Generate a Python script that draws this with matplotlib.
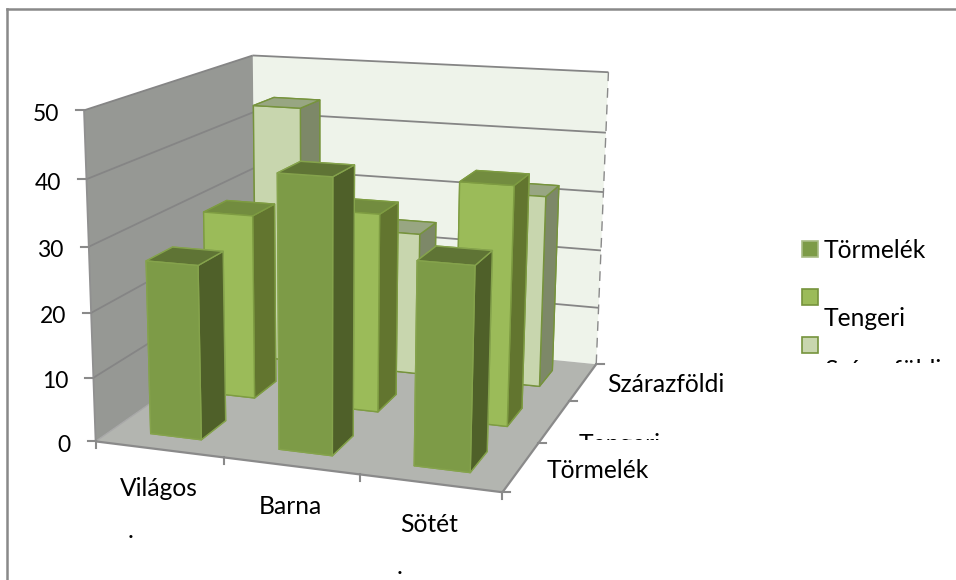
import numpy as np
import matplotlib
matplotlib.use("Agg")
import matplotlib.pyplot as plt
from matplotlib.lines import Line2D
from matplotlib.patches import Rectangle
from matplotlib.transforms import IdentityTransform
from mpl_toolkits.mplot3d.art3d import Poly3DCollection, Line3DCollection

W, H = 956, 580
FONT = "Lato"
FS = 17.7
FS_NUM = 16.5

categories = ["Világos", "Barna", "Sötét"]
series_names = ["Törmelék", "Tengeri", "Szárazföldi"]
tormelek = [27, 41.6, 30.5]
tengeri = [30, 31.8, 37.7]
szarazfoldi = [43.8, 24, 31.8]
y_ticks = [0, 10, 20, 30, 40, 50]

face_cols = ["#7D9B47", "#9BBB59", "#C8D6AE"]
side_cols = ["#4F6029", "#62752F", "#7D8868"]
top_cols = ["#5F7435", "#728C3F", "#98A682"]
edge_cols = ["#85A34C", "#7E9C42", "#76933C"]

# Perspective camera fitted to the chart box corners (data -> pixel)
box3d = np.array([[0, 0, 0], [3, 0, 0], [3, 3, 0], [0, 3, 0],
                  [0, 0, 50], [0, 3, 50], [3, 3, 50]], float)
box2d = np.array([[97, 440], [502, 494], [597, 362], [254, 332],
                  [83, 110], [254, 55], [608, 73]], float)
rows = []
for (X, Y, Z), (u, v) in zip(box3d, box2d):
    rows.append([X, Y, Z, 1, 0, 0, 0, 0, -u * X, -u * Y, -u * Z, -u])
    rows.append([0, 0, 0, 0, X, Y, Z, 1, -v * X, -v * Y, -v * Z, -v])
P = np.linalg.svd(np.array(rows))[2][-1].reshape(3, 4)
P = P / P[2, 3]


def project(x, y, z):
    q = P @ np.array([x, y, z, 1.0])
    return q[0] / q[2], q[1] / q[2]


fig = plt.figure(figsize=(W / 100, H / 100), dpi=100, facecolor="white")
ax = fig.add_axes([0, 0, 1, 1], projection="3d", computed_zorder=False)
ax.apply_aspect = lambda position=None: None
ax.set_position([0, 0, 1, 1])
ax.set_axis_off()
ax.patch.set_alpha(0)

inv = ax.transData.inverted()
v0 = inv.transform((0, 0))
v1 = inv.transform((1, 1))
sx, sy = v1 - v0
M = np.zeros((4, 4))
M[0] = sx * P[0] + v0[0] * P[2]
M[1] = -sy * P[1] + (H * sy + v0[1]) * P[2]
M[3] = P[2]
M[2] = P[2] - np.array([0, 0, 0, 1.0])
ax.get_proj = lambda: M

GRID = "#858585"

walls = [
    ([[0, 3, 0], [3, 3, 0], [3, 3, 50], [0, 3, 50]], "#EEF3EA"),
    ([[0, 0, 0], [0, 3, 0], [0, 3, 50], [0, 0, 50]], "#969894"),
    ([[0, 0, 0], [3, 0, 0], [3, 3, 0], [0, 3, 0]], "#B3B5B0"),
]
for verts, col in walls:
    pc = Poly3DCollection([verts], facecolors=col, edgecolors="none")
    ax.add_collection3d(pc)
    pc.set_zorder(1)


def line3d(pts, color, lw, ls="solid", zorder=2):
    segs = [[pts[i], pts[i + 1]] for i in range(len(pts) - 1)]
    lc = Line3DCollection(segs, colors=color, linewidths=lw, linestyles=ls)
    ax.add_collection3d(lc)
    lc.set_zorder(zorder)


for v in y_ticks[1:]:
    line3d([(0, 0, v), (0, 3, v), (3, 3, v)], GRID, 1.3)
line3d([(3, 3, 0), (3, 3, 50)], "#8a8a8a", 1, ls=(0, (7, 5)))
line3d([(0, 0, 0), (0, 0, 50)], "#909090", 1.3)
line3d([(0, 0, 0), (0, 3, 0)], "#A8A8A8", 1)
line3d([(0, 0, 0), (3, 0, 0), (3, 3, 0)], "#8a8a8a", 1.6)

BW = 0.40
BD = 0.44
values = [tormelek, tengeri, szarazfoldi]
z = 3
for row in [2, 1, 0]:
    for c in range(3):
        col6 = [top_cols[row], top_cols[row], face_cols[row], face_cols[row],
                side_cols[row], side_cols[row]]
        bar = ax.bar3d(c + 0.5 - BW / 2, row + 0.5 - BD / 2, 0, BW, BD, values[row][c],
                       color=col6, shade=False, edgecolor=edge_cols[row], linewidth=1.0)
        bar.set_zorder(z)
        z += 1

AX = "#8a8a8a"


def seg(x0, y0, x1, y1, color=AX, lw=1.5):
    fig.add_artist(Line2D([x0 / W, x1 / W], [1 - y0 / H, 1 - y1 / H], color=color, lw=lw))


def label(x, y, s, ha="center", clip=None, fs=FS):
    t = fig.text(x / W, 1 - y / H, s, ha=ha, va="center", fontsize=fs, family=FONT, color="#000000")
    if clip is not None:
        x0, y0, x1, y1 = clip
        r = Rectangle((x0, H - y1), x1 - x0, y1 - y0, transform=IdentityTransform())
        t.set_clip_path(r)
        t.set_clip_on(True)
    return t


# y axis ticks
for v in y_ticks:
    px, py = project(0, 0, v)
    seg(px - 8, py, px, py)
    label(px - 25, py + 4, str(v), ha="right", fs=FS_NUM)
# category ticks
for c in range(4):
    px, py = project(c, 0, 0)
    seg(px, py, px, py + 7)
# series ticks
for r in range(4):
    px, py = project(3, r, 0)
    seg(px, py, px + 8, py)

cat_pos = [(159, 489), (290, 506), (429, 525)]
for (cx, cy), s in zip(cat_pos, categories):
    label(cx, cy, s)
label(131, 531, ".")
label(400, 566, ".")

label(547, 471, series_names[0], ha="left")
label(579, 445, series_names[1], ha="left", clip=(560, 420, 700, 440))
label(607, 384, series_names[2], ha="left")

# legend
leg_y = [241, 289, 337]
for yy, fc, ec in zip(leg_y, face_cols, ["#A9BC85", "#76933C", "#76933C"]):
    fig.add_artist(Rectangle((802 / W, 1 - (yy + 16) / H), 16 / W, 16 / H, facecolor=fc,
                             edgecolor=ec, lw=1.2, transform=fig.transFigure))
label(824, 250, series_names[0], ha="left")
label(824, 319, series_names[1], ha="left")
label(824, 371, series_names[2], ha="left", clip=(800, 340, 950, 363))

# chart frame
seg(7, 9, 956, 9, color="#898989", lw=1.8)
seg(7, 9, 7, 580, color="#898989", lw=1.8)

fig.savefig("out.png", dpi=100, facecolor="white")
